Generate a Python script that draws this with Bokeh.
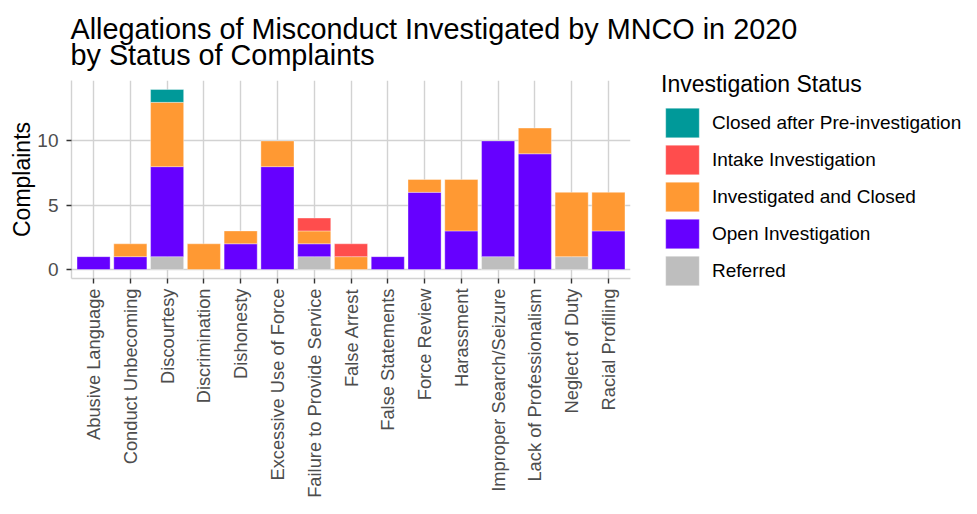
import math
import numpy as np
from bokeh.plotting import figure
from bokeh.models import FactorRange, Range1d, Legend, LegendItem, ColumnDataSource, FixedTicker
from bokeh.embed import file_html
from bokeh.resources import INLINE

categories = ["Abusive Language", "Conduct Unbecoming", "Discourtesy", "Discrimination",
              "Dishonesty", "Excessive Use of Force", "Failure to Provide Service",
              "False Arrest", "False Statements", "Force Review", "Harassment",
              "Improper Search/Seizure", "Lack of Professionalism", "Neglect of Duty",
              "Racial Profiling"]

# stacking order bottom -> top
statuses = ["Referred", "Open Investigation", "Investigated and Closed",
            "Intake Investigation", "Closed after Pre-investigation"]
referred   = [0, 0, 1, 0, 0, 0, 1, 0, 0, 0, 0, 1, 0, 1, 0]
open_inv   = [1, 1, 7, 0, 2, 8, 1, 0, 1, 6, 3, 9, 9, 0, 3]
inv_closed = [0, 1, 5, 2, 1, 2, 1, 1, 0, 1, 4, 0, 2, 5, 3]
intake     = [0, 0, 0, 0, 0, 0, 1, 1, 0, 0, 0, 0, 0, 0, 0]
closed_pre = [0, 0, 1, 0, 0, 0, 0, 0, 0, 0, 0, 0, 0, 0, 0]
series = [referred, open_inv, inv_closed, intake, closed_pre]
colors = ["#BEBEBE", "#6600FF", "#FF9933", "#FF4D4D", "#009999"]
y_ticks = [0, 5, 10]

FONT = "Liberation Sans"

p = figure(x_range=FactorRange(factors=categories, range_padding=0.1,
                               range_padding_units="absolute"),
           y_range=Range1d(-0.7, 14.7),
           frame_width=559, frame_height=198, output_backend="svg", toolbar_location=None,
           min_border_left=71, min_border_top=80, min_border_right=330,
           min_border_bottom=0)

p.title.text = "Allegations of Misconduct Investigated by MNCO in 2020\nby Status of Complaints"
p.title.text_font = FONT
p.title.text_font_size = "28.8px"
p.title.text_font_style = "normal"
p.title.text_color = "#000000"
p.title.text_line_height = 0.83
p.title.padding = 0
p.title.align = "left"
p.title.offset = -1
p.title.standoff = 18

bottoms = np.zeros(len(categories))
renderers = []
for name, vals, col in zip(statuses, series, colors):
    vals = np.array(vals, dtype=float)
    mask = vals > 0
    src = ColumnDataSource(dict(x=[c for c, m in zip(categories, mask) if m],
                                bottom=bottoms[mask], top=(bottoms + vals)[mask]))
    r = p.vbar(x="x", bottom="bottom", top="top", width=0.9, source=src,
               fill_color=col, line_color="white", line_width=0.6, line_alpha=0.6)
    renderers.append((name, r))
    bottoms = bottoms + vals

items = [LegendItem(label=n, renderers=[r]) for n, r in reversed(renderers)]
legend = Legend(items=items, location=(31, -11), title="Investigation Status",
                ncols=1, orientation="vertical")
legend.title_text_font = FONT
legend.title_text_font_size = "23px"
legend.title_text_font_style = "normal"
legend.title_text_color = "#000000"
legend.title_standoff = 6
legend.label_text_font = FONT
legend.label_text_font_size = "19px"
legend.label_text_color = "#000000"
legend.glyph_width = 42
legend.glyph_height = 37
legend.label_height = 37
legend.spacing = 0
legend.label_standoff = 9
legend.padding = 0
legend.margin = 0
legend.border_line_color = None
legend.background_fill_alpha = 0
p.add_layout(legend, "right")

p.outline_line_color = None
for g in (p.xgrid, p.ygrid):
    g.grid_line_color = "#D2D2D2"
    g.grid_line_width = 1.4
p.ygrid.ticker = FixedTicker(ticks=y_ticks)

p.yaxis.ticker = FixedTicker(ticks=y_ticks)
p.yaxis.axis_label = "Complaints"
p.yaxis.axis_label_text_font = FONT
p.yaxis.axis_label_text_font_size = "23px"
p.yaxis.axis_label_text_font_style = "normal"
p.yaxis.axis_label_text_color = "#000000"
p.yaxis.axis_label_standoff = -1

for ax in (p.xaxis[0], p.yaxis[0]):
    ax.axis_line_color = "#D2D2D2"
    ax.axis_line_width = 1.4
    ax.major_tick_line_color = "#333333"
    ax.major_tick_line_width = 1.4
    ax.major_tick_in = 0
    ax.major_tick_out = 5
    ax.minor_tick_line_color = None
    ax.major_label_text_font = FONT
    ax.major_label_text_font_size = "19px"
    ax.major_label_text_color = "#4D4D4D"

p.xaxis.major_label_text_font_size = "18.3px"
p.yaxis.major_label_standoff = 8
p.xaxis.major_label_orientation = math.pi / 2
p.xaxis.major_label_standoff = 5

open("out.html", "w").write(file_html(p, INLINE))
